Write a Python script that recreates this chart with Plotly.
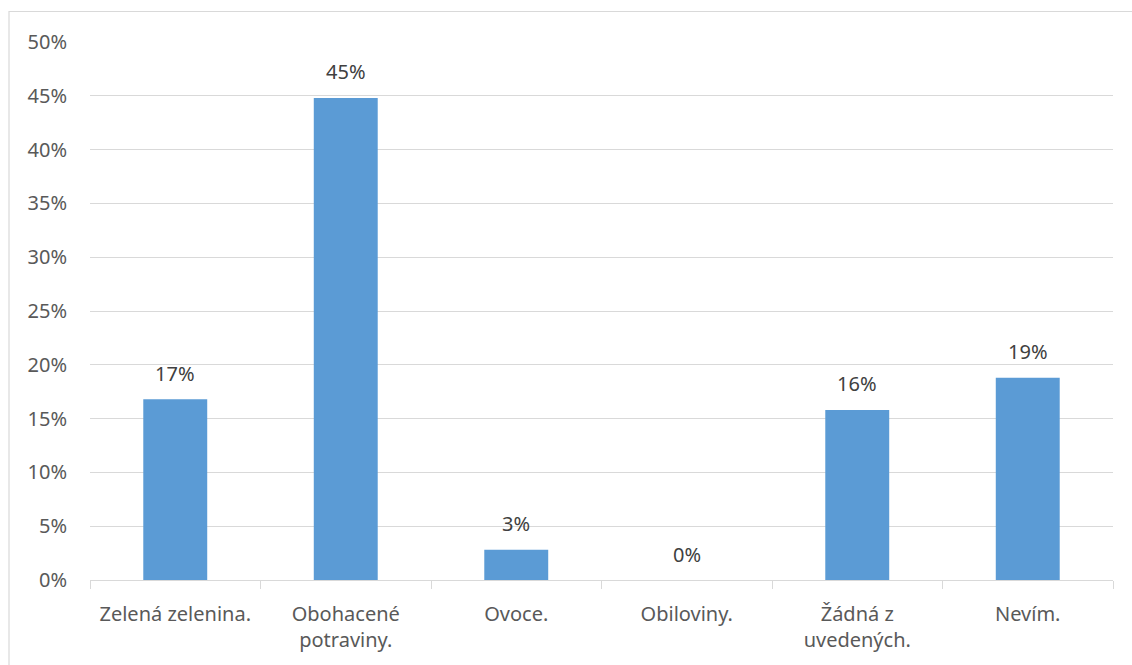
import plotly.graph_objects as go

categories = ["Zelená zelenina.", "Obohacené<br>potraviny.", "Ovoce.", "Obiloviny.",
              "Žádná z<br>uvedených.", "Nevím."]
shares = [0.168, 0.448, 0.028, 0.0, 0.158, 0.188]
y_ticks = [0.0, 0.05, 0.10, 0.15, 0.20, 0.25, 0.30, 0.35, 0.40, 0.45, 0.50]
y_tick_labels = ["0%", "5%", "10%", "15%", "20%", "25%", "30%", "35%", "40%", "45%", "50%"]

FONT = "Noto Sans"
FS = 20
W, H = 1132, 665
L, R, T, B = 90, 19, 42, 85

fig = go.Figure()
fig.add_trace(go.Bar(
    x=categories, y=shares,
    marker=dict(color="#5b9bd5", line=dict(width=0)),
    hoverinfo="skip",
))

# value labels centred above each bar
for c, v in zip(categories, shares):
    fig.add_annotation(
        x=c, y=v, text=f"{round(v * 100):.0f}%", showarrow=False,
        yanchor="middle", yshift=26,
        font=dict(family=FONT, size=FS, color="#404040"),
    )

# chart-area frame (runs off the right and bottom edges)
pw, ph = W - L - R, H - T - B
fig.add_shape(
    type="rect", xref="paper", yref="paper",
    x0=(9 - L) / pw, x1=(W + 20 - L) / pw,
    y0=(H - B - (H + 20)) / ph, y1=(H - B - 11.5) / ph,
    line=dict(color="#d9d9d9", width=1.2), fillcolor="rgba(0,0,0,0)", layer="below",
)

fig.update_layout(
    width=W, height=H,
    margin=dict(l=L, r=R, t=T, b=B),
    paper_bgcolor="white", plot_bgcolor="white",
    bargap=0.625, showlegend=False,
    font=dict(family=FONT, size=FS, color="#595959"),
)
fig.update_xaxes(
    type="category", showgrid=False,
    showline=True, linecolor="#d9d9d9", linewidth=1.2,
    ticks="outside", tickson="boundaries", ticklen=8, tickcolor="#d9d9d9", tickwidth=1.2,
    tickfont=dict(family=FONT, size=FS, color="#595959"),
    ticklabelstandoff=16,
)
fig.update_yaxes(
    range=[0, 0.5], tickvals=y_ticks, ticktext=y_tick_labels,
    showgrid=True, gridcolor="#d9d9d9", gridwidth=1.2,
    zeroline=False, showline=False, ticks="",
    tickfont=dict(family=FONT, size=FS, color="#595959"),
    ticklabelstandoff=22,
)

fig.write_html("out.html")
